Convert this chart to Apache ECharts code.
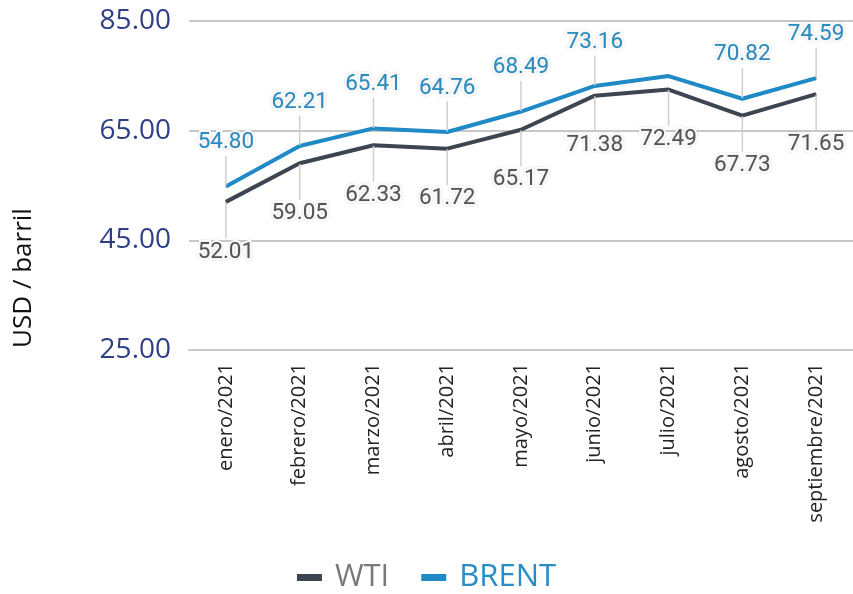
<!DOCTYPE html>
<html>
<head>
<meta charset="utf-8">
<script src="https://cdn.jsdelivr.net/npm/echarts@6/dist/echarts.min.js"></script>
<style>html,body{margin:0;padding:0;background:#fff}#c{width:853px;height:594px}</style>
</head>
<body>
<div id="c"></div>
<script>
const categories = ['enero/2021','febrero/2021','marzo/2021','abril/2021','mayo/2021','junio/2021','julio/2021','agosto/2021','septiembre/2021'];
const wti = [52.01, 59.05, 62.33, 61.72, 65.17, 71.38, 72.49, 67.73, 71.65];
const brent = [54.80, 62.21, 65.41, 64.76, 68.49, 73.16, 74.95, 70.82, 74.59];
const brentHiddenLabels = [6];
const yTicks = [25, 45, 65, 85];
const yAxisTitle = 'USD / barril';

const chart = echarts.init(document.getElementById('c'), null, {renderer: 'canvas'});
const labelBase = {
  show: true,
  fontFamily: 'Roboto',
  fontSize: 22.5,
  textBorderColor: '#fff',
  textBorderWidth: 4,
  textShadowColor: 'rgba(0,0,0,0.18)',
  textShadowBlur: 2,
  formatter: p => (typeof p.value === 'number' ? p.value : +p.value).toFixed(2)
};
chart.setOption({
  animation: false,
  grid: {left: 189, right: -4, top: 21, bottom: 244, containLabel: false},
  graphic: [{
    type: 'text', x: 24, y: 278, rotation: Math.PI / 2,
    style: {text: yAxisTitle, fontFamily: 'Open Sans', fontSize: 26, fill: '#111', align: 'center', verticalAlign: 'middle'}
  }],
  legend: {
    bottom: -4, left: 'center',
    itemWidth: 25, itemHeight: 7, itemGap: 32,
    icon: 'rect',
    textStyle: {fontFamily: 'Open Sans', fontSize: 31, padding: [0,0,0,8]},
    data: [
      {name: 'WTI', textStyle: {color: '#7a7a7a'}},
      {name: 'BRENT', textStyle: {color: '#2a8cc4'}}
    ]
  },
  xAxis: {
    type: 'category',
    data: categories,
    boundaryGap: true,
    axisLine: {show: true, lineStyle: {color: '#c8c8c8', width: 2}},
    axisTick: {show: false},
    axisLabel: {rotate: 90, margin: 13, fontFamily: 'Open Sans', fontSize: 20, color: '#222'}
  },
  yAxis: {
    type: 'value',
    min: yTicks[0], max: yTicks[yTicks.length-1], interval: 20,
    axisLine: {show: false},
    axisTick: {show: false},
    splitLine: {lineStyle: {color: '#c8c8c8', width: 2}},
    axisLabel: {margin: 18, fontFamily: 'Open Sans', fontSize: 28, color: '#2f3f86', formatter: v => v.toFixed(2)}
  },
  series: [
    {
      name: 'WTI', type: 'line', data: wti,
      showSymbol: true, symbol: 'circle', symbolSize: 1,
      lineStyle: {color: '#3c4550', width: 4},
      itemStyle: {color: '#3c4550'},
      label: Object.assign({}, labelBase, {position: 'bottom', distance: 5, color: '#555'}),
      labelLayout: {dy: 33},
      labelLine: {show: true, lineStyle: {color: '#cfcfcf', width: 1.5}},
      z: 3
    },
    {
      name: 'BRENT', type: 'line',
      data: brent.map((v, i) => brentHiddenLabels.includes(i) ? {value: v, label: {show: false}, labelLine: {show: false}} : v),
      showSymbol: true, symbol: 'circle', symbolSize: 1,
      lineStyle: {color: '#1f8ac6', width: 4},
      itemStyle: {color: '#1f8ac6'},
      label: Object.assign({}, labelBase, {position: 'top', distance: 5, color: '#2a8cc0'}),
      labelLayout: {dy: -27},
      labelLine: {show: true, lineStyle: {color: '#cfcfcf', width: 1.5}},
      z: 4
    }
  ]
});
</script>
</body>
</html>
